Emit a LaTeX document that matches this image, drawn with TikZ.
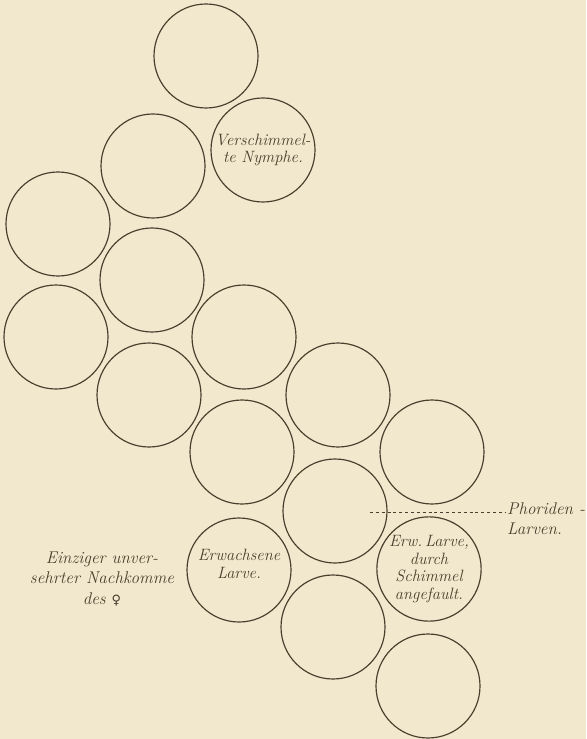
\documentclass[tikz,border=0pt]{standalone}
\usepackage{fontspec}
\newfontfamily\symfont{DejaVu Sans}
\usetikzlibrary{positioning}
\definecolor{paper}{RGB}{242,232,205}
\definecolor{ink}{RGB}{72,63,45}

\begin{document}
\begin{tikzpicture}[
    x=0.03cm, y=-0.03cm,
    cell/.style={circle,draw=ink,line width=1pt,minimum size=3.12cm,inner sep=0pt,
                 align=center,text=ink,font=\itshape\fontsize{14}{15}\selectfont},
    note/.style={text=ink,font=\itshape\fontsize{14.5}{17.5}\selectfont,inner sep=0pt},
    lead/.style={ink,line width=0.6pt,dash pattern=on 2.6pt off 2.4pt}
]
  % Paper
  \fill[paper] (0,0) rectangle (586,739);
  \useasboundingbox (0,0) rectangle (586,739);

  % Cells of the nest
  \node[cell] (top)    at (206,56)  {};
  \node[cell] (upl)    at (153,166) {};
  \node[cell] (nymph)  at (263,150) {Verschimmel-\\te Nymphe.};
  \node[cell] (farl1)  at (58,224)  {};
  \node[cell] (midl1)  at (152,280) {};
  \node[cell] (farl2)  at (56,337)  {};
  \node[cell] (midr1)  at (244,337) {};
  \node[cell] (midl2)  at (149,395) {};
  \node[cell] (midr2)  at (242,452) {};
  \node[cell] (rgt1)   at (338,395) {};
  \node[cell] (far1)   at (432,452) {};
  \node[cell] (rgt2)   at (335,511) {};
  \node[cell] (adult)  at (239,570) {Erwachsene\\Larve.\\[-4pt]};
  \node[cell] (mouldy) at (429,569) {Erw.\,Larve,\\durch\\Schimmel\\angefault.};
  \node[cell] (low1)   at (333,627) {};
  \node[cell] (low2)   at (428,686) {};

  % Labels
  \node[note,align=center] (only) at (102,579)
    {Einziger unver-\\sehrter Nachkomme\\des {\symfont\fontsize{11}{17}\selectfont ♀}};
  \node[note,align=left,anchor=north west] (phor) at (507,502) {Phoriden -\\Larven.};

  % Leader line
  \coordinate (lead0) at (370,512);
  \draw[lead] (lead0) -- ([xshift=-1pt]lead0 -| phor.west);
\end{tikzpicture}
\end{document}
